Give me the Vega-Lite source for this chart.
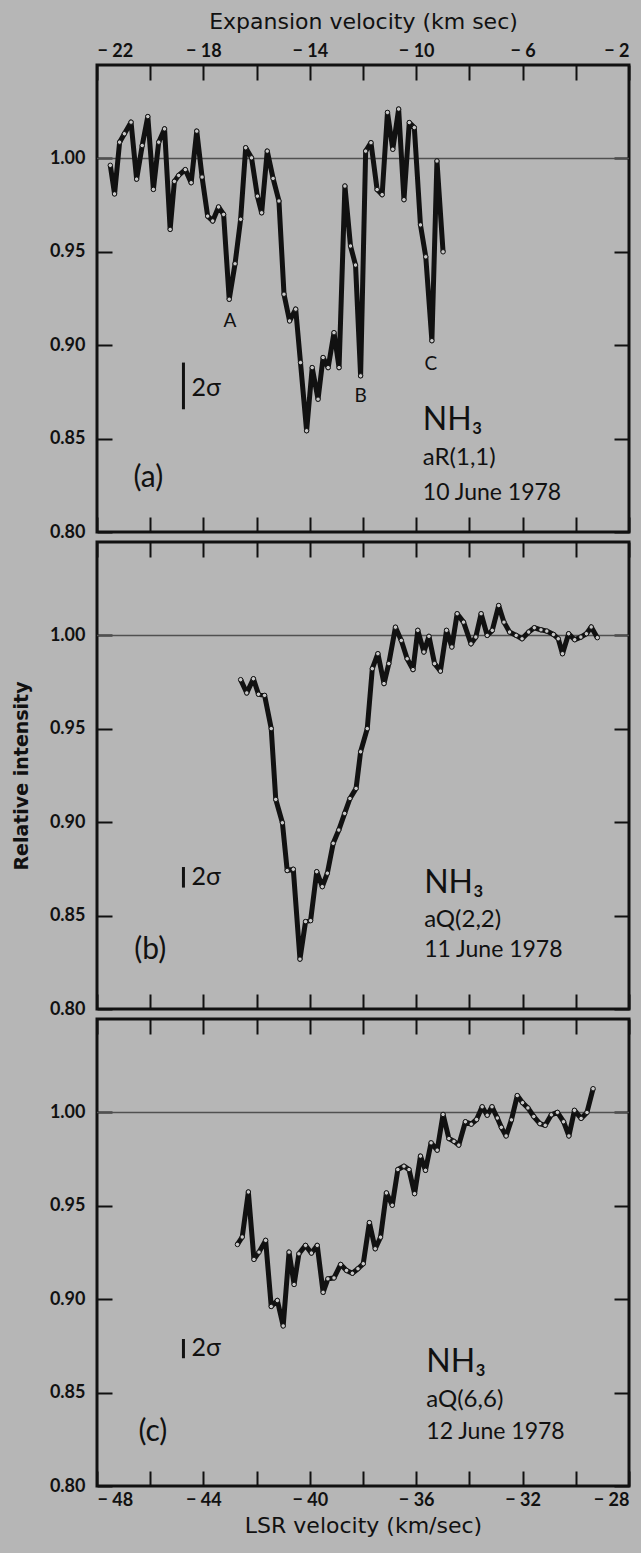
{
  "$schema": "https://vega.github.io/schema/vega-lite/v6.json",
  "background": "#b6b6b6",
  "padding": {"left": 10, "top": 8, "right": 9, "bottom": 19},
  "spacing": 10,
  "bounds": "flush",
  "config": {
    "view": {"stroke": "#111", "strokeWidth": 3},
    "axis": {"domain": false, "grid": false, "tickSize": -15, "tickColor": "#111", "tickWidth": 2, "labelFont": "Lato", "labelFontWeight": "bold", "labelFontSize": 18, "labelColor": "#111", "titleFont": "DejaVu Sans", "titleColor": "#111", "titleFontWeight": "normal", "titleFontSize": 22},
    "axisLeft": {"labelPadding": 27, "titlePadding": 18, "titleFontSize": 19, "titleFontWeight": "bold"},
    "axisTop": {"labelPadding": 20, "titlePadding": 9},
    "axisBottom": {"labelPadding": 20, "titlePadding": 6},
    "text": {"font": "Lato", "color": "#111"}
  },
  "datasets": {
    "a": [
      {"lsr": -47.50, "v": 0.9963}, {"lsr": -47.34, "v": 0.981}, {"lsr": -47.15, "v": 1.0087}, {"lsr": -46.97, "v": 1.0132},
      {"lsr": -46.72, "v": 1.0194}, {"lsr": -46.51, "v": 0.9889}, {"lsr": -46.30, "v": 1.0069}, {"lsr": -46.09, "v": 1.0224},
      {"lsr": -45.88, "v": 0.9834}, {"lsr": -45.68, "v": 1.0087}, {"lsr": -45.46, "v": 1.0158}, {"lsr": -45.25, "v": 0.962},
      {"lsr": -45.09, "v": 0.9877}, {"lsr": -44.93, "v": 0.9909}, {"lsr": -44.68, "v": 0.994}, {"lsr": -44.46, "v": 0.987},
      {"lsr": -44.25, "v": 1.0146}, {"lsr": -44.05, "v": 0.99}, {"lsr": -43.84, "v": 0.9691}, {"lsr": -43.65, "v": 0.9665},
      {"lsr": -43.43, "v": 0.974}, {"lsr": -43.24, "v": 0.970}, {"lsr": -43.03, "v": 0.9246}, {"lsr": -42.81, "v": 0.9436},
      {"lsr": -42.60, "v": 0.9674}, {"lsr": -42.41, "v": 1.0057}, {"lsr": -42.19, "v": 1.0003}, {"lsr": -41.97, "v": 0.9798},
      {"lsr": -41.81, "v": 0.9709}, {"lsr": -41.60, "v": 1.0039}, {"lsr": -41.38, "v": 0.9893}, {"lsr": -41.16, "v": 0.9772},
      {"lsr": -40.97, "v": 0.9273}, {"lsr": -40.76, "v": 0.913}, {"lsr": -40.53, "v": 0.9193}, {"lsr": -40.35, "v": 0.8907},
      {"lsr": -40.12, "v": 0.8542}, {"lsr": -39.91, "v": 0.888}, {"lsr": -39.69, "v": 0.8711}, {"lsr": -39.50, "v": 0.8934},
      {"lsr": -39.31, "v": 0.888}, {"lsr": -39.09, "v": 0.9067}, {"lsr": -38.90, "v": 0.888}, {"lsr": -38.68, "v": 0.9852},
      {"lsr": -38.47, "v": 0.9531}, {"lsr": -38.28, "v": 0.9429}, {"lsr": -38.09, "v": 0.8836}, {"lsr": -37.90, "v": 1.0039},
      {"lsr": -37.70, "v": 1.0084}, {"lsr": -37.47, "v": 0.9833}, {"lsr": -37.28, "v": 0.9806}, {"lsr": -37.08, "v": 1.0246},
      {"lsr": -36.88, "v": 1.0049}, {"lsr": -36.66, "v": 1.0264}, {"lsr": -36.46, "v": 0.9779}, {"lsr": -36.26, "v": 1.0192},
      {"lsr": -36.07, "v": 1.0165}, {"lsr": -35.84, "v": 0.9644}, {"lsr": -35.64, "v": 0.9473}, {"lsr": -35.41, "v": 0.9024},
      {"lsr": -35.22, "v": 0.9986}, {"lsr": -34.99, "v": 0.950}
    ],
    "b": [
      {"lsr": -42.60, "v": 0.9763}, {"lsr": -42.37, "v": 0.9692}, {"lsr": -42.12, "v": 0.9768}, {"lsr": -41.93, "v": 0.9685},
      {"lsr": -41.70, "v": 0.9679}, {"lsr": -41.45, "v": 0.9501}, {"lsr": -41.28, "v": 0.9122}, {"lsr": -41.03, "v": 0.8997},
      {"lsr": -40.85, "v": 0.8741}, {"lsr": -40.62, "v": 0.8748}, {"lsr": -40.37, "v": 0.8267}, {"lsr": -40.16, "v": 0.8468},
      {"lsr": -39.97, "v": 0.8473}, {"lsr": -39.74, "v": 0.8735}, {"lsr": -39.53, "v": 0.8655}, {"lsr": -39.34, "v": 0.8727},
      {"lsr": -39.12, "v": 0.8887}, {"lsr": -38.91, "v": 0.8958}, {"lsr": -38.69, "v": 0.9047}, {"lsr": -38.49, "v": 0.9127},
      {"lsr": -38.26, "v": 0.9181}, {"lsr": -38.09, "v": 0.9377}, {"lsr": -37.84, "v": 0.9501}, {"lsr": -37.65, "v": 0.9822},
      {"lsr": -37.44, "v": 0.9902}, {"lsr": -37.21, "v": 0.9742}, {"lsr": -37.03, "v": 0.9849}, {"lsr": -36.78, "v": 1.0044},
      {"lsr": -36.56, "v": 0.9973}, {"lsr": -36.34, "v": 0.9875}, {"lsr": -36.12, "v": 0.9817}, {"lsr": -35.94, "v": 1.0027},
      {"lsr": -35.71, "v": 0.9911}, {"lsr": -35.52, "v": 0.9995}, {"lsr": -35.31, "v": 0.9849}, {"lsr": -35.09, "v": 0.9809},
      {"lsr": -34.86, "v": 1.0027}, {"lsr": -34.66, "v": 0.9938}, {"lsr": -34.46, "v": 1.0116}, {"lsr": -34.22, "v": 1.0071},
      {"lsr": -33.94, "v": 0.9955}, {"lsr": -33.76, "v": 0.9991}, {"lsr": -33.56, "v": 1.0116}, {"lsr": -33.33, "v": 1.0},
      {"lsr": -33.14, "v": 1.0027}, {"lsr": -32.90, "v": 1.016}, {"lsr": -32.70, "v": 1.0071}, {"lsr": -32.49, "v": 1.0018},
      {"lsr": -32.24, "v": 1.0}, {"lsr": -32.02, "v": 0.9982}, {"lsr": -31.77, "v": 1.0018}, {"lsr": -31.56, "v": 1.0041},
      {"lsr": -31.31, "v": 1.003}, {"lsr": -31.09, "v": 1.0023}, {"lsr": -30.84, "v": 1.0005}, {"lsr": -30.66, "v": 0.9982},
      {"lsr": -30.50, "v": 0.9902}, {"lsr": -30.27, "v": 1.0009}, {"lsr": -30.04, "v": 0.9977}, {"lsr": -29.81, "v": 0.9991},
      {"lsr": -29.60, "v": 1.0009}, {"lsr": -29.42, "v": 1.0045}, {"lsr": -29.19, "v": 0.9988}
    ],
    "c": [
      {"lsr": -42.72, "v": 0.9293}, {"lsr": -42.54, "v": 0.9333}, {"lsr": -42.31, "v": 0.9574}, {"lsr": -42.10, "v": 0.9213},
      {"lsr": -41.91, "v": 0.9252}, {"lsr": -41.66, "v": 0.9315}, {"lsr": -41.45, "v": 0.8961}, {"lsr": -41.22, "v": 0.8993},
      {"lsr": -41.00, "v": 0.8857}, {"lsr": -40.78, "v": 0.9252}, {"lsr": -40.59, "v": 0.9079}, {"lsr": -40.41, "v": 0.9243},
      {"lsr": -40.16, "v": 0.9288}, {"lsr": -39.94, "v": 0.9247}, {"lsr": -39.72, "v": 0.9288}, {"lsr": -39.50, "v": 0.9037},
      {"lsr": -39.32, "v": 0.9109}, {"lsr": -39.09, "v": 0.9114}, {"lsr": -38.84, "v": 0.9186}, {"lsr": -38.62, "v": 0.9154},
      {"lsr": -38.40, "v": 0.9139}, {"lsr": -38.19, "v": 0.9163}, {"lsr": -37.99, "v": 0.9190}, {"lsr": -37.76, "v": 0.9410},
      {"lsr": -37.54, "v": 0.9270}, {"lsr": -37.34, "v": 0.9332}, {"lsr": -37.12, "v": 0.9569}, {"lsr": -36.90, "v": 0.9503},
      {"lsr": -36.69, "v": 0.9694}, {"lsr": -36.46, "v": 0.9712}, {"lsr": -36.27, "v": 0.9694}, {"lsr": -36.06, "v": 0.9565},
      {"lsr": -35.84, "v": 0.9766}, {"lsr": -35.65, "v": 0.969}, {"lsr": -35.44, "v": 0.9837}, {"lsr": -35.21, "v": 0.9798},
      {"lsr": -34.99, "v": 0.9989}, {"lsr": -34.77, "v": 0.986}, {"lsr": -34.58, "v": 0.9845}, {"lsr": -34.40, "v": 0.9825},
      {"lsr": -34.15, "v": 0.995}, {"lsr": -33.93, "v": 0.9937}, {"lsr": -33.73, "v": 0.9962}, {"lsr": -33.52, "v": 1.003},
      {"lsr": -33.33, "v": 0.9985}, {"lsr": -33.15, "v": 1.003}, {"lsr": -32.95, "v": 0.997}, {"lsr": -32.80, "v": 0.992},
      {"lsr": -32.62, "v": 0.9874}, {"lsr": -32.42, "v": 0.996}, {"lsr": -32.20, "v": 1.009}, {"lsr": -32.00, "v": 1.0052},
      {"lsr": -31.80, "v": 1.0024}, {"lsr": -31.58, "v": 0.9978}, {"lsr": -31.35, "v": 0.994}, {"lsr": -31.15, "v": 0.9931},
      {"lsr": -30.92, "v": 0.9987}, {"lsr": -30.69, "v": 1.0}, {"lsr": -30.46, "v": 0.995}, {"lsr": -30.26, "v": 0.9874},
      {"lsr": -30.05, "v": 1.0011}, {"lsr": -29.80, "v": 0.9968}, {"lsr": -29.58, "v": 1.0}, {"lsr": -29.35, "v": 1.0127}
    ],
    "notes": [
      {"panel": "a", "role": "species", "lsr": -35.75, "v": 0.8602, "text": "NH₃"},
      {"panel": "a", "role": "line", "lsr": -35.75, "v": 0.8395, "text": "aR(1,1)"},
      {"panel": "a", "role": "date", "lsr": -35.75, "v": 0.8207, "text": "10 June 1978"},
      {"panel": "a", "role": "sigma", "lsr": -44.45, "v": 0.8773, "text": "2σ"},
      {"panel": "a", "role": "panel", "lsr": -46.07, "v": 0.8288, "text": "(a)"},
      {"panel": "a", "role": "peak", "lsr": -43.0, "v": 0.913, "text": "A"},
      {"panel": "a", "role": "peak", "lsr": -38.09, "v": 0.873, "text": "B"},
      {"panel": "a", "role": "peak", "lsr": -35.45, "v": 0.8898, "text": "C"},
      {"panel": "b", "role": "species", "lsr": -35.7, "v": 0.8673, "text": "NH₃"},
      {"panel": "b", "role": "line", "lsr": -35.7, "v": 0.8478, "text": "aQ(2,2)"},
      {"panel": "b", "role": "date", "lsr": -35.7, "v": 0.8318, "text": "11 June 1978"},
      {"panel": "b", "role": "sigma", "lsr": -44.45, "v": 0.8705, "text": "2σ"},
      {"panel": "b", "role": "panel", "lsr": -46.0, "v": 0.8318, "text": "(b)"},
      {"panel": "c", "role": "species", "lsr": -35.62, "v": 0.8666, "text": "NH₃"},
      {"panel": "c", "role": "line", "lsr": -35.62, "v": 0.846, "text": "aQ(6,6)"},
      {"panel": "c", "role": "date", "lsr": -35.62, "v": 0.829, "text": "12 June 1978"},
      {"panel": "c", "role": "sigma", "lsr": -44.45, "v": 0.874, "text": "2σ"},
      {"panel": "c", "role": "panel", "lsr": -45.9, "v": 0.829, "text": "(c)"}
    ],
    "bars": [
      {"panel": "a", "lsr": -44.75, "v1": 0.8657, "v2": 0.8907},
      {"panel": "b", "lsr": -44.75, "v1": 0.8650, "v2": 0.8760},
      {"panel": "c", "lsr": -44.75, "v1": 0.8684, "v2": 0.8787}
    ],
    "unity": [{"v": 1.0}]
  },
  "vconcat": [
    {
      "width": 532, "height": 467,
      "resolve": {"axis": {"x": "independent", "y": "independent"}},
      "layer": [
        {"data": {"name": "unity"}, "mark": {"type": "rule", "color": "#505050", "strokeWidth": 1.5},
         "encoding": {"y": {"field": "v", "type": "quantitative", "axis": null}}},
        {"data": {"name": "a"}, "mark": {"type": "line", "color": "#111", "strokeWidth": 5, "strokeJoin": "round"},
         "encoding": {
           "x": {"field": "lsr", "type": "quantitative", "scale": {"domain": [-48, -28], "nice": false, "zero": false},
                 "axis": {"orient": "bottom", "values": [-48,-46,-44,-42,-40,-38,-36,-34,-32,-30,-28], "labels": false, "title": null}},
           "y": {"field": "v", "type": "quantitative", "scale": {"domain": [0.8, 1.05], "nice": false, "zero": false},
                 "axis": {"orient": "left", "values": [0.8, 0.85, 0.9, 0.95, 1.0], "format": ".2f", "title": "Relative intensity", "titleOpacity": 0}}
         }},
        {"data": {"name": "a"}, "mark": {"type": "point", "filled": true, "fill": "#c8c8c8", "stroke": "#111", "strokeWidth": 1, "size": 20, "opacity": 1},
         "encoding": {
           "x": {"field": "lsr", "type": "quantitative",
                 "axis": {"orient": "top", "values": [-48,-46,-44,-42,-40,-38,-36,-34,-32,-30,-28], "labelExpr": "datum.value % 4 == 0 ? '− ' + abs(datum.value + 26) : ''", "title": "Expansion velocity (km sec)"}},
           "y": {"field": "v", "type": "quantitative",
                 "axis": {"orient": "right", "values": [0.8, 0.85, 0.9, 0.95, 1.0], "labels": false, "title": null}}
         }},
        {"data": {"name": "bars"}, "transform": [{"filter": "datum.panel == 'a'"}], "mark": {"type": "rule", "color": "#111", "strokeWidth": 3},
         "encoding": {"x": {"field": "lsr", "type": "quantitative", "axis": null}, "y": {"field": "v1", "type": "quantitative", "axis": null}, "y2": {"field": "v2"}}},
        {"data": {"name": "notes"}, "transform": [{"filter": "datum.panel == 'a' && datum.role == 'species'"}],
         "mark": {"type": "text", "align": "left", "baseline": "middle", "fontSize": 32},
         "encoding": {"x": {"field": "lsr", "type": "quantitative", "axis": null}, "y": {"field": "v", "type": "quantitative", "axis": null}, "text": {"field": "text"}}},
        {"data": {"name": "notes"}, "transform": [{"filter": "datum.panel == 'a' && datum.role == 'line'"}],
         "mark": {"type": "text", "align": "left", "baseline": "middle", "fontSize": 24},
         "encoding": {"x": {"field": "lsr", "type": "quantitative", "axis": null}, "y": {"field": "v", "type": "quantitative", "axis": null}, "text": {"field": "text"}}},
        {"data": {"name": "notes"}, "transform": [{"filter": "datum.panel == 'a' && datum.role == 'date'"}],
         "mark": {"type": "text", "align": "left", "baseline": "middle", "fontSize": 23},
         "encoding": {"x": {"field": "lsr", "type": "quantitative", "axis": null}, "y": {"field": "v", "type": "quantitative", "axis": null}, "text": {"field": "text"}}},
        {"data": {"name": "notes"}, "transform": [{"filter": "datum.panel == 'a' && datum.role == 'sigma'"}],
         "mark": {"type": "text", "align": "left", "baseline": "middle", "fontSize": 25},
         "encoding": {"x": {"field": "lsr", "type": "quantitative", "axis": null}, "y": {"field": "v", "type": "quantitative", "axis": null}, "text": {"field": "text"}}},
        {"data": {"name": "notes"}, "transform": [{"filter": "datum.panel == 'a' && datum.role == 'panel'"}],
         "mark": {"type": "text", "align": "center", "baseline": "middle", "fontSize": 30},
         "encoding": {"x": {"field": "lsr", "type": "quantitative", "axis": null}, "y": {"field": "v", "type": "quantitative", "axis": null}, "text": {"field": "text"}}},
        {"data": {"name": "notes"}, "transform": [{"filter": "datum.panel == 'a' && datum.role == 'peak'"}],
         "mark": {"type": "text", "align": "center", "baseline": "middle", "fontSize": 19},
         "encoding": {"x": {"field": "lsr", "type": "quantitative", "axis": null}, "y": {"field": "v", "type": "quantitative", "axis": null}, "text": {"field": "text"}}}
      ]
    },
    {
      "width": 532, "height": 467,
      "resolve": {"axis": {"x": "independent", "y": "independent"}},
      "layer": [
        {"data": {"name": "unity"}, "mark": {"type": "rule", "color": "#505050", "strokeWidth": 1.5},
         "encoding": {"y": {"field": "v", "type": "quantitative", "axis": null}}},
        {"data": {"name": "b"}, "mark": {"type": "line", "color": "#111", "strokeWidth": 5, "strokeJoin": "round"},
         "encoding": {
           "x": {"field": "lsr", "type": "quantitative", "scale": {"domain": [-48, -28], "nice": false, "zero": false},
                 "axis": {"orient": "bottom", "values": [-48,-46,-44,-42,-40,-38,-36,-34,-32,-30,-28], "labels": false, "title": null}},
           "y": {"field": "v", "type": "quantitative", "scale": {"domain": [0.8, 1.05], "nice": false, "zero": false},
                 "axis": {"orient": "left", "values": [0.8, 0.85, 0.9, 0.95, 1.0], "format": ".2f", "title": "Relative intensity"}}
         }},
        {"data": {"name": "b"}, "mark": {"type": "point", "filled": true, "fill": "#c8c8c8", "stroke": "#111", "strokeWidth": 1, "size": 20, "opacity": 1},
         "encoding": {
           "x": {"field": "lsr", "type": "quantitative",
                 "axis": {"orient": "top", "values": [-48,-46,-44,-42,-40,-38,-36,-34,-32,-30,-28], "labels": false, "title": null}},
           "y": {"field": "v", "type": "quantitative",
                 "axis": {"orient": "right", "values": [0.8, 0.85, 0.9, 0.95, 1.0], "labels": false, "title": null}}
         }},
        {"data": {"name": "bars"}, "transform": [{"filter": "datum.panel == 'b'"}], "mark": {"type": "rule", "color": "#111", "strokeWidth": 3},
         "encoding": {"x": {"field": "lsr", "type": "quantitative", "axis": null}, "y": {"field": "v1", "type": "quantitative", "axis": null}, "y2": {"field": "v2"}}},
        {"data": {"name": "notes"}, "transform": [{"filter": "datum.panel == 'b' && datum.role == 'species'"}],
         "mark": {"type": "text", "align": "left", "baseline": "middle", "fontSize": 32},
         "encoding": {"x": {"field": "lsr", "type": "quantitative", "axis": null}, "y": {"field": "v", "type": "quantitative", "axis": null}, "text": {"field": "text"}}},
        {"data": {"name": "notes"}, "transform": [{"filter": "datum.panel == 'b' && datum.role == 'line'"}],
         "mark": {"type": "text", "align": "left", "baseline": "middle", "fontSize": 24},
         "encoding": {"x": {"field": "lsr", "type": "quantitative", "axis": null}, "y": {"field": "v", "type": "quantitative", "axis": null}, "text": {"field": "text"}}},
        {"data": {"name": "notes"}, "transform": [{"filter": "datum.panel == 'b' && datum.role == 'date'"}],
         "mark": {"type": "text", "align": "left", "baseline": "middle", "fontSize": 23},
         "encoding": {"x": {"field": "lsr", "type": "quantitative", "axis": null}, "y": {"field": "v", "type": "quantitative", "axis": null}, "text": {"field": "text"}}},
        {"data": {"name": "notes"}, "transform": [{"filter": "datum.panel == 'b' && datum.role == 'sigma'"}],
         "mark": {"type": "text", "align": "left", "baseline": "middle", "fontSize": 25},
         "encoding": {"x": {"field": "lsr", "type": "quantitative", "axis": null}, "y": {"field": "v", "type": "quantitative", "axis": null}, "text": {"field": "text"}}},
        {"data": {"name": "notes"}, "transform": [{"filter": "datum.panel == 'b' && datum.role == 'panel'"}],
         "mark": {"type": "text", "align": "center", "baseline": "middle", "fontSize": 30},
         "encoding": {"x": {"field": "lsr", "type": "quantitative", "axis": null}, "y": {"field": "v", "type": "quantitative", "axis": null}, "text": {"field": "text"}}}
      ]
    },
    {
      "width": 532, "height": 467,
      "resolve": {"axis": {"x": "independent", "y": "independent"}},
      "layer": [
        {"data": {"name": "unity"}, "mark": {"type": "rule", "color": "#505050", "strokeWidth": 1.5},
         "encoding": {"y": {"field": "v", "type": "quantitative", "axis": null}}},
        {"data": {"name": "c"}, "mark": {"type": "line", "color": "#111", "strokeWidth": 5, "strokeJoin": "round"},
         "encoding": {
           "x": {"field": "lsr", "type": "quantitative", "scale": {"domain": [-48, -28], "nice": false, "zero": false},
                 "axis": {"orient": "bottom", "values": [-48,-46,-44,-42,-40,-38,-36,-34,-32,-30,-28], "labelExpr": "datum.value % 4 == 0 ? '− ' + abs(datum.value) : ''", "title": "LSR velocity (km/sec)"}},
           "y": {"field": "v", "type": "quantitative", "scale": {"domain": [0.8, 1.05], "nice": false, "zero": false},
                 "axis": {"orient": "left", "values": [0.8, 0.85, 0.9, 0.95, 1.0], "format": ".2f", "title": "Relative intensity", "titleOpacity": 0}}
         }},
        {"data": {"name": "c"}, "mark": {"type": "point", "filled": true, "fill": "#c8c8c8", "stroke": "#111", "strokeWidth": 1, "size": 20, "opacity": 1},
         "encoding": {
           "x": {"field": "lsr", "type": "quantitative",
                 "axis": {"orient": "top", "values": [-48,-46,-44,-42,-40,-38,-36,-34,-32,-30,-28], "labels": false, "title": null}},
           "y": {"field": "v", "type": "quantitative",
                 "axis": {"orient": "right", "values": [0.8, 0.85, 0.9, 0.95, 1.0], "labels": false, "title": null}}
         }},
        {"data": {"name": "bars"}, "transform": [{"filter": "datum.panel == 'c'"}], "mark": {"type": "rule", "color": "#111", "strokeWidth": 3},
         "encoding": {"x": {"field": "lsr", "type": "quantitative", "axis": null}, "y": {"field": "v1", "type": "quantitative", "axis": null}, "y2": {"field": "v2"}}},
        {"data": {"name": "notes"}, "transform": [{"filter": "datum.panel == 'c' && datum.role == 'species'"}],
         "mark": {"type": "text", "align": "left", "baseline": "middle", "fontSize": 32},
         "encoding": {"x": {"field": "lsr", "type": "quantitative", "axis": null}, "y": {"field": "v", "type": "quantitative", "axis": null}, "text": {"field": "text"}}},
        {"data": {"name": "notes"}, "transform": [{"filter": "datum.panel == 'c' && datum.role == 'line'"}],
         "mark": {"type": "text", "align": "left", "baseline": "middle", "fontSize": 24},
         "encoding": {"x": {"field": "lsr", "type": "quantitative", "axis": null}, "y": {"field": "v", "type": "quantitative", "axis": null}, "text": {"field": "text"}}},
        {"data": {"name": "notes"}, "transform": [{"filter": "datum.panel == 'c' && datum.role == 'date'"}],
         "mark": {"type": "text", "align": "left", "baseline": "middle", "fontSize": 23},
         "encoding": {"x": {"field": "lsr", "type": "quantitative", "axis": null}, "y": {"field": "v", "type": "quantitative", "axis": null}, "text": {"field": "text"}}},
        {"data": {"name": "notes"}, "transform": [{"filter": "datum.panel == 'c' && datum.role == 'sigma'"}],
         "mark": {"type": "text", "align": "left", "baseline": "middle", "fontSize": 25},
         "encoding": {"x": {"field": "lsr", "type": "quantitative", "axis": null}, "y": {"field": "v", "type": "quantitative", "axis": null}, "text": {"field": "text"}}},
        {"data": {"name": "notes"}, "transform": [{"filter": "datum.panel == 'c' && datum.role == 'panel'"}],
         "mark": {"type": "text", "align": "center", "baseline": "middle", "fontSize": 30},
         "encoding": {"x": {"field": "lsr", "type": "quantitative", "axis": null}, "y": {"field": "v", "type": "quantitative", "axis": null}, "text": {"field": "text"}}}
      ]
    }
  ]
}
